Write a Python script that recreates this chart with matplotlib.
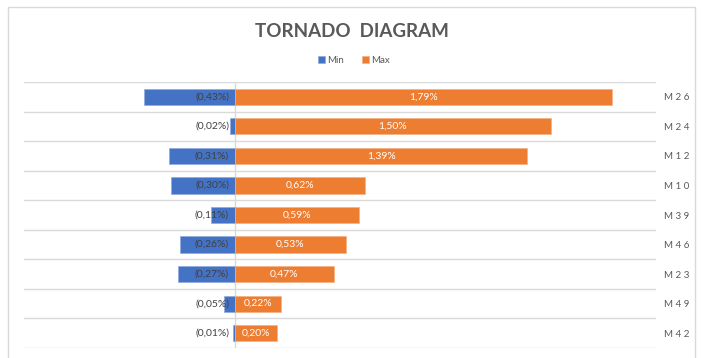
import matplotlib.pyplot as plt
from matplotlib.patches import Rectangle

# Data (percent)
categories = ["M26", "M24", "M12", "M10", "M39", "M46", "M23", "M49", "M42"]
min_vals = [-0.43, -0.02, -0.31, -0.30, -0.11, -0.26, -0.27, -0.05, -0.01]
max_vals = [1.79, 1.50, 1.39, 0.62, 0.59, 0.53, 0.47, 0.22, 0.20]

BLUE = "#4472C4"
ORANGE = "#ED7D31"
GRID = "#D9D9D9"
TXT = "#595959"

plt.rcParams["font.family"] = ["Lato", "DejaVu Sans"]


def fmt(v):
    s = f"{abs(v):.2f}%".replace(".", ",")
    return f"({s})" if v < 0 else s


fig = plt.figure(figsize=(7.01, 3.58), dpi=100)
ax = fig.add_axes([0.0342, 0.0279, 0.9016, 0.743])

# chart frame
fig.patches.append(Rectangle((8 / 701, -0.05), 687 / 701, 1.05 - 7 / 358,
                             transform=fig.transFigure, fill=False,
                             edgecolor=GRID, linewidth=1.0))

y = list(range(len(categories)))
bh = 0.55
min_bars = ax.barh(y, min_vals, height=bh, color=BLUE, edgecolor="#8FAADC",
                   linewidth=0.5, label="Min", zorder=3)
max_bars = ax.barh(y, max_vals, height=bh, color=ORANGE, edgecolor="#F4B183",
                   linewidth=0.5, label="Max", zorder=3)

for yi, v in zip(y, min_vals):
    ax.annotate(fmt(v), (0, yi), xytext=(-4, 0), textcoords="offset points",
                ha="right", va="center", fontsize=7.5, color="#404040", zorder=4)
for yi, v in zip(y, max_vals):
    ax.text(v / 2, yi, fmt(v), ha="center", va="center", fontsize=7.5,
            color="white", zorder=4)

ax.set_xlim(-1.0, 2.0)
ax.set_ylim(len(categories) - 0.5, -0.5)

# row separators and centre line
for b in range(len(categories) + 1):
    ax.axhline(b - 0.5, color=GRID, linewidth=1.0, zorder=1)
ax.axvline(0, color=GRID, linewidth=1.0, zorder=2)

ax.set_xticks([])
ax.set_yticks(y)
ax.set_yticklabels([" ".join(c) for c in categories], fontsize=7, color=TXT)
ax.yaxis.tick_right()
ax.tick_params(axis="y", length=0, pad=6)
for s in ax.spines.values():
    s.set_visible(False)

fig.text(0.502, 0.913, "TORNADO  DIAGRAM", ha="center", va="center",
         fontsize=13.5, fontweight="bold", color=TXT)
fig.legend(handles=[min_bars, max_bars], loc="center", bbox_to_anchor=(0.505, 0.832),
           ncol=2, frameon=False, fontsize=7, handlelength=0.7, handleheight=0.7,
           handletextpad=0.3, columnspacing=1.8, labelcolor=TXT)

fig.savefig("out.png", dpi=100)
